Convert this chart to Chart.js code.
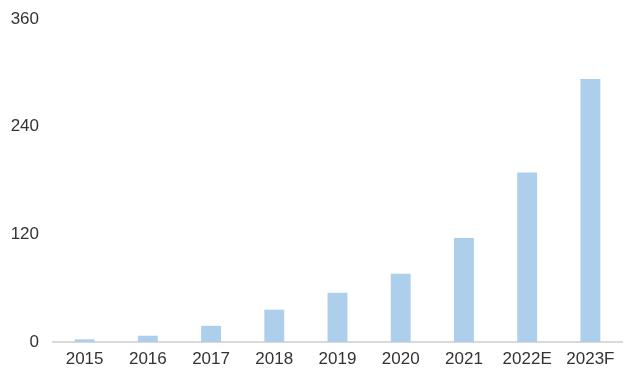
<!DOCTYPE html>
<html>
<head>
<meta charset="utf-8">
<script src="https://cdn.jsdelivr.net/npm/chart.js@4"></script>
<style>
html,body{margin:0;padding:0;background:#fff;}
#wrap{width:634px;height:384px;position:relative;}
</style>
</head>
<body>
<div id="wrap"><canvas id="c" width="634" height="384"></canvas></div>
<script>
const categories = ["2015","2016","2017","2018","2019","2020","2021","2022E","2023F"];
const values = [3, 7, 18, 36, 55, 76, 116, 189, 293];
const yTicks = [0, 120, 240, 360];

const ctx = document.getElementById('c').getContext('2d');
new Chart(ctx, {
  type: 'bar',
  data: {
    labels: categories,
    datasets: [{
      data: values,
      backgroundColor: 'rgb(174,207,235)',
      borderWidth: 0,
      categoryPercentage: 1,
      barPercentage: 0.315
    }]
  },
  options: {
    responsive: false,
    animation: false,
    layout: { padding: { top: 19, right: 12, left: 0, bottom: 0 } },
    plugins: { legend: { display: false }, tooltip: { enabled: false } },
    scales: {
      x: {
        grid: { display: false, drawTicks: false },
        border: { display: true, color: '#d9d9d9', width: 2 },
        ticks: { color: '#333', font: { family: '"Liberation Sans", Arial, sans-serif', size: 17 }, padding: 7, maxRotation: 0 },
        afterFit: s => { s.height = 42; s.paddingLeft = 0; s.paddingRight = 0; }
      },
      y: {
        min: 0, max: 360,
        afterBuildTicks: s => { s.ticks = yTicks.map(v => ({ value: v })); },
        grid: { display: false, drawTicks: false },
        border: { display: false },
        ticks: { color: '#333', font: { family: '"Liberation Sans", Arial, sans-serif', size: 17 }, padding: 14 },
        afterFit: s => { s.width = 53; s.paddingTop = 0; s.paddingBottom = 0; }
      }
    }
  }
});
</script>
</body>
</html>
